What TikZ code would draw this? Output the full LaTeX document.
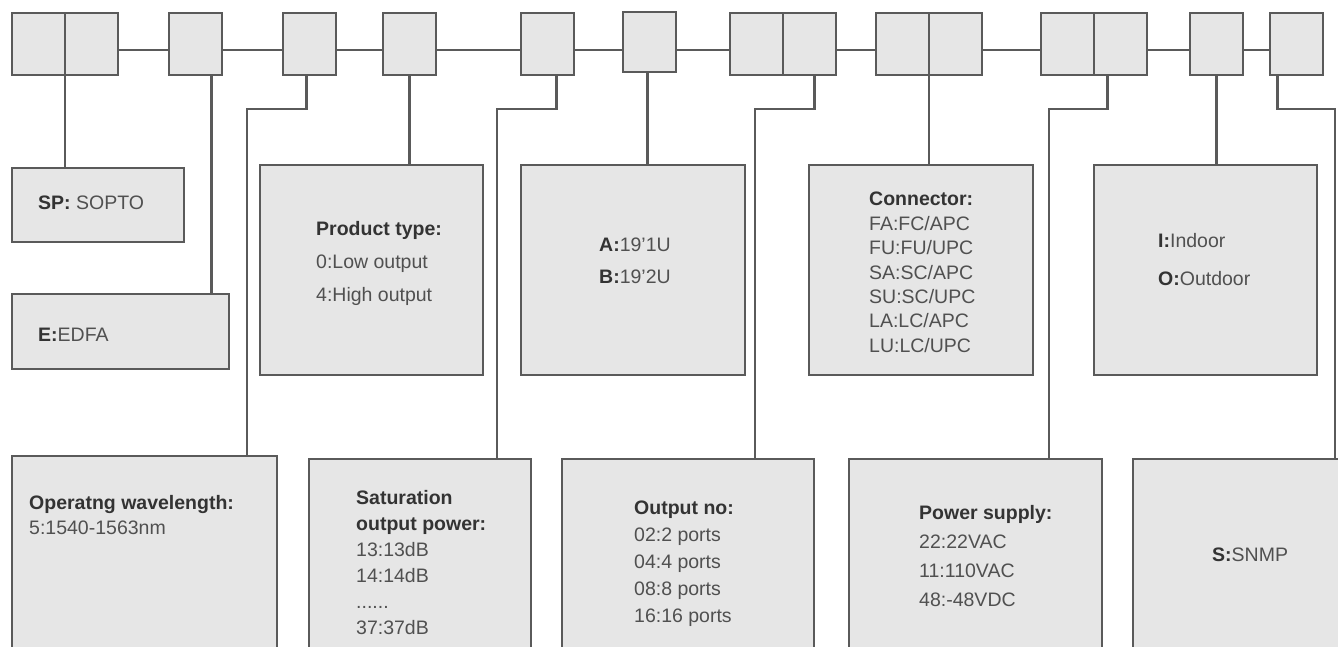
\documentclass[tikz,border=0pt]{standalone}
\usepackage{fontspec}
\setmainfont{Liberation Sans}
\usetikzlibrary{positioning}
\definecolor{BoxFill} {HTML}{E6E6E6}
\definecolor{BoxLine} {HTML}{5A5A5A}
\definecolor{TextGray}{HTML}{505050}
\definecolor{HeadGray}{HTML}{333333}
\newcommand{\hd}[1]{\textbf{\color{HeadGray}#1}}

\begin{document}
\begin{tikzpicture}[
  x=1pt, y=-1pt,
  cell/.style = {draw=BoxLine, fill=BoxFill, line width=2.2pt,
                 minimum width=53pt, minimum height=62pt,
                 inner sep=0pt, outer sep=0pt, anchor=north west},
  box/.style  = {draw=BoxLine, fill=BoxFill, line width=2.2pt,
                 inner sep=0pt, outer sep=0pt, anchor=north west},
  txt/.style  = {anchor=north west, align=left, inner sep=0pt,
                 text=TextGray, font=\fontsize{19.5}{#1}\selectfont},
  txt/.default = 24,
  link/.style = {draw=BoxLine, line width=2.2pt},
]
\clip (0,0) rectangle (1338,646);
\coordinate (bus)  at (0,50);
\coordinate (bend) at (0,109);
% code cells
\node[cell]                          (sp1) at (12,13)   {};
\node[cell, right=0pt of sp1]        (sp2)              {};
\node[cell]                          (ed)  at (169,13)  {};
\node[cell]                          (wl)  at (283,13)  {};
\node[cell]                          (pt)  at (383,13)  {};
\node[cell]                          (sat) at (521,13)  {};
\node[cell, minimum height=60pt]     (rk)  at (623,12)  {};
\node[cell]                          (on1) at (730,13)  {};
\node[cell, right=0pt of on1]        (on2)              {};
\node[cell]                          (cn1) at (876,13)  {};
\node[cell, right=0pt of cn1]        (cn2)              {};
\node[cell]                          (ps1) at (1041,13) {};
\node[cell, right=0pt of ps1]        (ps2)              {};
\node[cell]                          (io)  at (1190,13) {};
\node[cell]                          (sn)  at (1270,13) {};
\foreach \a/\b in {sp2/ed,ed/wl,wl/pt,pt/sat,sat/rk,rk/on1,on2/cn1,cn2/ps1,ps2/io,io/sn}
  \draw[link] (\a.east |- bus) -- (\b.west |- bus);
% description boxes
\node[box, minimum width=172pt, minimum height=74pt]  (spB)  at (12,168)   {};
\node[box, minimum width=217pt, minimum height=75pt]  (edB)  at (12,294)   {};
\node[box, minimum width=223pt, minimum height=210pt] (ptB)  at (260,165)  {};
\node[box, minimum width=224pt, minimum height=210pt] (rkB)  at (521,165)  {};
\node[box, minimum width=224pt, minimum height=210pt] (cnB)  at (809,165)  {};
\node[box, minimum width=223pt, minimum height=210pt] (ioB)  at (1094,165) {};
\node[box, minimum width=265pt, minimum height=250pt] (wlB)  at (12,456)   {};
\node[box, minimum width=222pt, minimum height=250pt] (satB) at (309,459)  {};
\node[box, minimum width=252pt, minimum height=250pt] (onB)  at (562,459)  {};
\node[box, minimum width=253pt, minimum height=250pt] (psB)  at (849,459)  {};
\node[box, minimum width=212pt, minimum height=250pt] (snB)  at (1133,459) {};
% texts
\node[txt]     (spT)  at (38,196)   {\hd{SP:} SOPTO};
\node[txt]     (edT)  at (38,328)   {\hd{E:}EDFA};
\node[txt=33]  (ptT)  at (316,221)  {\hd{Product type:}\\0:Low output\\4:High output};
\node[txt=32]  (rkT)  at (599,238)  {\hd{A:}19'1U\\\hd{B:}19'2U};
\node[txt=24.4](cnT)  at (869,192)  {\hd{Connector:}\\FA:FC/APC\\FU:FU/UPC\\SA:SC/APC\\SU:SC/UPC\\LA:LC/APC\\LU:LC/UPC};
\node[txt=38]  (ioT)  at (1158,233) {\hd{I:}Indoor\\\hd{O:}Outdoor};
\node[txt=25]  (wlT)  at (29,495)   {\hd{Operatng wavelength:}\\5:1540-1563nm};
\node[txt=26]  (satT) at (356,490)  {\hd{Saturation}\\\hd{output power:}\\13:13dB\\14:14dB\\......\\37:37dB};
\node[txt=27]  (onT)  at (634,501)  {\hd{Output no:}\\02:2 ports\\04:4 ports\\08:8 ports\\16:16 ports};
\node[txt=29]  (psT)  at (919,505)  {\hd{Power supply:}\\22:22VAC\\11:110VAC\\48:-48VDC};
\node[txt]     (snT)  at (1212,548) {\hd{S:}SNMP};
% leader lines
\draw[link] (sp1.south east) -- (sp1.south east |- spB.north);
\draw[link] ([xshift=16pt]ed.south) -- ([xshift=16pt]ed.south |- edB.north);
\draw[link] ([xshift=-3pt]wl.south) |- ([xshift=-30pt]wlB.north east |- bend) -- ([xshift=-30pt]wlB.north east);
\draw[link] (pt.south) -- (pt.south |- ptB.north);
\draw[link] ([xshift=9pt]sat.south) |- ([xshift=-34pt]satB.north east |- bend) -- ([xshift=-34pt]satB.north east);
\draw[link] ([xshift=-2pt]rk.south) -- ([xshift=-2pt]rk.south |- rkB.north);
\draw[link] ([xshift=5pt]on2.south) |- ([xshift=-59pt]onB.north east |- bend) -- ([xshift=-59pt]onB.north east);
\draw[link] (cn1.south east) -- (cn1.south east |- cnB.north);
\draw[link] ([xshift=-13pt]ps2.south) |- ([xshift=-53pt]psB.north east |- bend) -- ([xshift=-53pt]psB.north east);
\draw[link] (io.south) -- (io.south |- ioB.north);
\draw[link] ([xshift=-19pt]sn.south) |- ([xshift=-10pt]snB.north east |- bend) -- ([xshift=-10pt]snB.north east);
\end{tikzpicture}
\end{document}
